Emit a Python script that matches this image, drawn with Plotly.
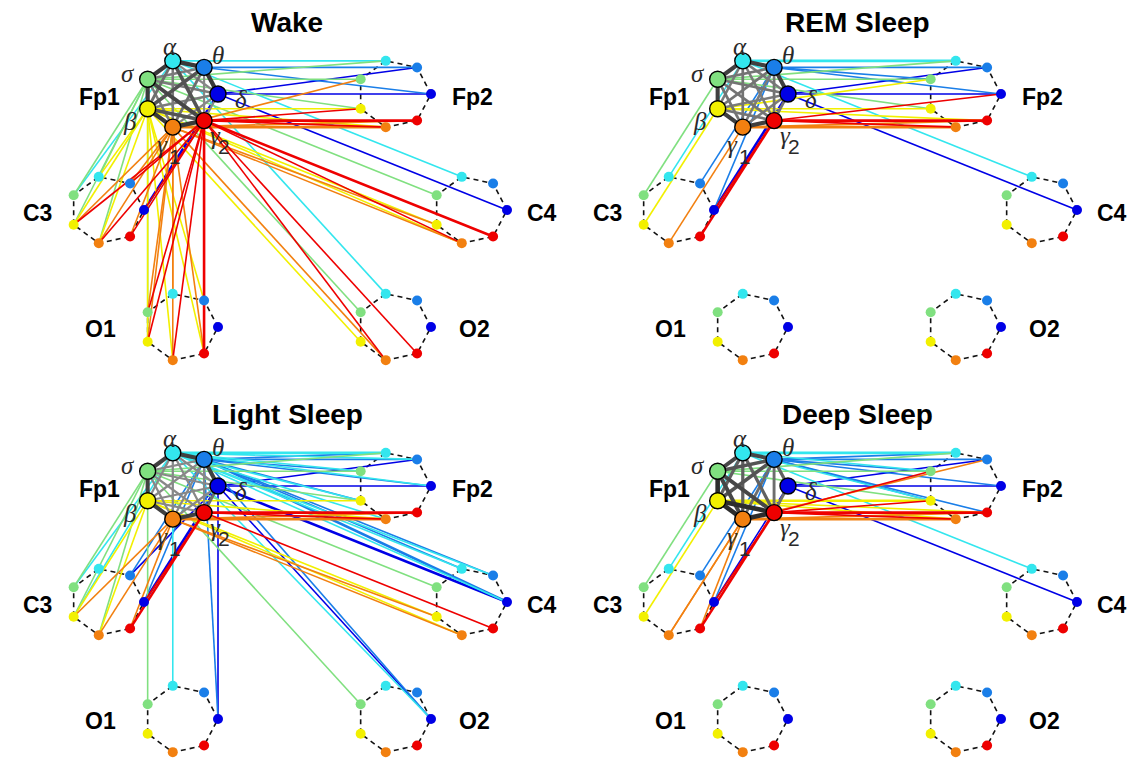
import math
import plotly.graph_objects as go

# ---------------- data ----------------
BANDS = ["d", "t", "a", "s", "b", "g1", "g2"]
BAND_COLORS = ["#0000e6", "#1a7ee8", "#33e6ee", "#80e080", "#f2f000", "#f28010", "#ee0000"]
BAND_GLYPHS = ["δ", "θ", "α", "σ", "β", "γ", "γ"]
BAND_SUBS = ["", "", "", "", "", "1", "2"]
CHANNELS = ["Fp1", "Fp2", "C3", "C4", "O1", "O2"]
PANEL_TITLES = ["Wake", "REM Sleep", "Light Sleep", "Deep Sleep"]

# intra-Fp1 link strengths, pair order = all (i<j) combinations of BANDS
WAKE_FP1 = [0.9, 0.3, 0.4, 0.4, 0.3, 0.3, 0.9, 0.4, 0.7, 0.5, 0.3, 0.9, 0.5, 0.4, 0.7, 0.9, 0.4, 0.8, 0.9, 0.7, 0.9]
REM_FP1 = [0.85, 0.4, 0.45, 0.4, 0.4, 0.45, 0.85, 0.45, 0.45, 0.4, 0.45, 0.85, 0.4, 0.45, 0.4, 0.85, 0.45, 0.45, 0.85, 0.45, 0.85]
LIGHT_FP1 = [0.85, 0.3, 0.3, 0.3, 0.3, 0.5, 0.85, 0.3, 0.3, 0.3, 0.3, 0.85, 0.3, 0.3, 0.3, 0.85, 0.3, 0.3, 0.85, 0.3, 0.85]
DEEP_FP1 = [0.6, 0.0, 0.0, 0.0, 0.0, 0.5, 0.8, 0.7, 0.7, 0.5, 0.5, 0.8, 0.6, 0.6, 0.6, 1.0, 0.8, 0.8, 1.0, 1.0, 1.0]

# Fp1 -> other channel links: (Fp1 band, channel, band, weight)
WAKE_LINKS = [
    ("a", "Fp2", "a", 1), ("s", "Fp2", "a", 1), ("t", "Fp2", "t", 1), ("d", "Fp2", "t", 1),
    ("t", "Fp2", "d", 1), ("d", "Fp2", "d", 1), ("s", "Fp2", "s", 1), ("g1", "Fp2", "s", 1),
    ("b", "Fp2", "b", 1), ("s", "Fp2", "b", 1), ("g2", "Fp2", "b", 1), ("g2", "Fp2", "g2", 2),
    ("g1", "Fp2", "g2", 1), ("g1", "Fp2", "g1", 2), ("g2", "Fp2", "g1", 1), ("b", "Fp2", "g1", 1),
    ("a", "C4", "a", 1), ("s", "C4", "s", 1), ("d", "C4", "d", 1), ("b", "C4", "b", 1),
    ("g1", "C4", "b", 1), ("g1", "C4", "g1", 1), ("b", "C4", "g1", 1), ("g2", "C4", "g2", 2),
    ("g2", "C4", "g1", 1),
    ("a", "O2", "a", 1), ("s", "O2", "s", 1), ("b", "O2", "b", 1), ("g1", "O2", "g1", 1),
    ("g2", "O2", "g1", 1), ("g2", "O2", "g2", 1),
    ("s", "C3", "s", 1), ("a", "C3", "s", 1), ("s", "C3", "b", 1), ("b", "C3", "b", 1),
    ("g2", "C3", "b", 1), ("g1", "C3", "b", 1), ("s", "C3", "a", 1), ("b", "C3", "a", 1),
    ("g1", "C3", "t", 1), ("g2", "C3", "t", 1), ("d", "C3", "d", 2), ("g2", "C3", "d", 1),
    ("g2", "C3", "g2", 1), ("g1", "C3", "g2", 1), ("g1", "C3", "g1", 1), ("b", "C3", "g1", 1),
    ("g2", "C3", "g1", 1), ("s", "C3", "g1", 1),
    ("b", "O1", "b", 1), ("b", "O1", "g1", 1), ("b", "O1", "g2", 1), ("b", "O1", "t", 1),
    ("g1", "O1", "a", 1), ("g1", "O1", "s", 1), ("g1", "O1", "b", 1), ("g1", "O1", "g1", 1),
    ("g1", "O1", "g2", 1), ("g2", "O1", "s", 1), ("g2", "O1", "b", 1), ("g2", "O1", "g1", 1),
    ("g2", "O1", "g2", 2), ("s", "O1", "b", 1),
]
REM_LINKS = [
    ("a", "Fp2", "a", 2), ("s", "Fp2", "a", 1), ("t", "Fp2", "t", 1), ("d", "Fp2", "t", 1),
    ("t", "Fp2", "d", 1), ("g2", "Fp2", "d", 1), ("d", "Fp2", "d", 1), ("s", "Fp2", "s", 1),
    ("b", "Fp2", "s", 1), ("t", "Fp2", "s", 1), ("b", "Fp2", "b", 1), ("s", "Fp2", "b", 1),
    ("g2", "Fp2", "g2", 2), ("g1", "Fp2", "g2", 1), ("g1", "Fp2", "g1", 2), ("g2", "Fp2", "g1", 1),
    ("b", "Fp2", "g2", 1),
    ("a", "C4", "a", 1), ("d", "C4", "d", 1),
    ("s", "C3", "s", 1), ("a", "C3", "a", 1), ("b", "C3", "b", 1), ("t", "C3", "t", 1),
    ("g1", "C3", "g1", 1), ("t", "C3", "d", 1), ("d", "C3", "d", 2), ("g2", "C3", "g2", 2),
    ("g2", "C3", "d", 1),
]
LIGHT_LINKS = [
    ("a", "Fp2", "a", 2), ("t", "Fp2", "a", 1), ("s", "Fp2", "a", 1), ("a", "Fp2", "t", 1),
    ("t", "Fp2", "t", 1), ("d", "Fp2", "t", 1), ("t", "Fp2", "d", 1), ("d", "Fp2", "d", 1),
    ("a", "Fp2", "d", 1), ("s", "Fp2", "s", 1), ("t", "Fp2", "s", 1), ("a", "Fp2", "s", 1),
    ("b", "Fp2", "b", 1), ("s", "Fp2", "b", 1), ("a", "Fp2", "b", 1), ("t", "Fp2", "b", 1),
    ("g2", "Fp2", "g2", 2), ("g1", "Fp2", "g2", 1), ("g2", "Fp2", "g1", 1), ("g1", "Fp2", "g1", 2),
    ("b", "Fp2", "g1", 1), ("a", "Fp2", "g1", 1),
    ("t", "C4", "t", 1), ("a", "C4", "a", 1), ("t", "C4", "d", 2), ("d", "C4", "d", 2),
    ("a", "C4", "d", 1), ("a", "C4", "t", 1), ("t", "C4", "a", 1), ("s", "C4", "s", 1),
    ("b", "C4", "b", 1), ("g1", "C4", "b", 1), ("b", "C4", "g1", 1), ("g2", "C4", "g2", 1),
    ("g1", "C4", "g1", 1),
    ("s", "O2", "s", 1), ("a", "O2", "d", 1), ("t", "O2", "d", 1), ("d", "O2", "d", 1),
    ("s", "O1", "s", 1), ("a", "O1", "a", 1), ("d", "O1", "d", 1), ("t", "O1", "d", 1),
    ("s", "C3", "s", 1), ("a", "C3", "s", 1), ("s", "C3", "b", 1), ("b", "C3", "b", 1),
    ("a", "C3", "b", 1), ("t", "C3", "t", 1), ("d", "C3", "t", 1), ("d", "C3", "d", 2),
    ("g2", "C3", "d", 1), ("g2", "C3", "g2", 2), ("g1", "C3", "g1", 1), ("g1", "C3", "g2", 1),
    ("b", "C3", "g1", 1), ("s", "C3", "g1", 1), ("g1", "C3", "b", 1), ("t", "C3", "d", 1),
]
DEEP_LINKS = [
    ("a", "Fp2", "a", 2), ("s", "Fp2", "a", 1), ("t", "Fp2", "a", 1), ("g1", "Fp2", "t", 1),
    ("g2", "Fp2", "s", 1), ("t", "Fp2", "t", 1), ("t", "Fp2", "d", 1), ("d", "Fp2", "t", 1),
    ("d", "Fp2", "d", 1), ("s", "Fp2", "s", 1), ("a", "Fp2", "s", 1), ("t", "Fp2", "s", 1),
    ("b", "Fp2", "b", 2), ("s", "Fp2", "b", 1), ("a", "Fp2", "b", 1), ("t", "Fp2", "b", 1),
    ("g2", "Fp2", "b", 1), ("b", "Fp2", "g2", 1), ("g2", "Fp2", "g2", 2), ("g1", "Fp2", "g2", 1),
    ("g1", "Fp2", "g1", 2), ("g2", "Fp2", "g1", 1), ("t", "Fp2", "g2", 1), ("b", "Fp2", "g1", 1),
    ("a", "C4", "a", 1), ("d", "C4", "d", 1),
    ("s", "C3", "s", 1), ("a", "C3", "a", 1), ("b", "C3", "b", 1), ("t", "C3", "t", 1),
    ("g1", "C3", "g1", 1), ("g1", "C3", "g1", 1), ("t", "C3", "d", 1), ("d", "C3", "d", 1),
    ("g2", "C3", "d", 1), ("g2", "C3", "g2", 2), ("g1", "C3", "g2", 1),
]
PANEL_FP1 = [WAKE_FP1, REM_FP1, LIGHT_FP1, DEEP_FP1]
PANEL_LINKS = [WAKE_LINKS, REM_LINKS, LIGHT_LINKS, DEEP_LINKS]

# ---------------- layout geometry (local pixel units) ----------------
CENTERS = {"Fp1": (181, 94), "Fp2": (394, 94), "C3": (107, 210),
           "C4": (470, 210), "O1": (181, 327), "O2": (394, 327)}
LABEL_POS = {"Fp1": (99, 97), "Fp2": (472, 97), "C3": (37, 213),
             "C4": (542, 213), "O1": (100, 329), "O2": (474, 329)}
GLYPH_OFF = [(23, 5), (14, -12), (-3, -14), (-20, -6), (-18, 13), (-10, 17), (11, 15)]
SUB_OFF = [None, None, None, None, None, (2, 29), (20, 26)]
RX, RY = 37, 34
PW, PH = 564, 372
FIG_W, FIG_H = 1134, 764
PANEL_ORIGIN = [(0, 0), (570, 0), (0, 392), (570, 392)]


def node_xy(ch, band):
    cx, cy = CENTERS[ch]
    k = BANDS.index(band)
    ang = math.radians(k * 360 / 7)
    return cx + RX * math.cos(ang), cy - RY * math.sin(ang)


PAIRS = [(BANDS[i], BANDS[j]) for i in range(7) for j in range(i + 1, 7)]

fig = go.Figure()
annotations = []
layout_axes = {}

for p in range(4):
    ox, oy = PANEL_ORIGIN[p]
    xa = "x" if p == 0 else f"x{p+1}"
    ya = "y" if p == 0 else f"y{p+1}"
    xkey = "xaxis" if p == 0 else f"xaxis{p+1}"
    ykey = "yaxis" if p == 0 else f"yaxis{p+1}"
    layout_axes[xkey] = dict(domain=[ox / FIG_W, (ox + PW) / FIG_W], range=[0, PW],
                             visible=False, fixedrange=True, anchor=ya)
    layout_axes[ykey] = dict(domain=[1 - (oy + PH) / FIG_H, 1 - oy / FIG_H], range=[PH, 0],
                             visible=False, fixedrange=True, anchor=xa)

    # dashed rings of the other channels
    for ch in CHANNELS[1:]:
        xs, ys = [], []
        for b in BANDS + [BANDS[0]]:
            x, y = node_xy(ch, b)
            xs.append(x); ys.append(y)
        fig.add_trace(go.Scatter(x=xs, y=ys, mode="lines", xaxis=xa, yaxis=ya,
                                 line=dict(color="#111111", width=1.6, dash="5px,4px"),
                                 hoverinfo="skip", showlegend=False))

    # inter-channel links grouped by colour and width
    groups = {}
    for src, ch, dst, w in PANEL_LINKS[p]:
        x0, y0 = node_xy("Fp1", src)
        x1, y1 = node_xy(ch, dst)
        key = (BANDS.index(src), w)
        gx, gy = groups.setdefault(key, ([], []))
        gx += [x0, x1, None]; gy += [y0, y1, None]
    for (bi, w), (gx, gy) in sorted(groups.items()):
        fig.add_trace(go.Scatter(x=gx, y=gy, mode="lines", xaxis=xa, yaxis=ya,
                                 line=dict(color=BAND_COLORS[bi], width=1.6 if w == 1 else 2.6),
                                 hoverinfo="skip", showlegend=False))

    # intra-Fp1 links
    order = sorted(range(len(PAIRS)), key=lambda i: PANEL_FP1[p][i])
    for i in order:
        w = PANEL_FP1[p][i]
        if w <= 0:
            continue
        a, b = PAIRS[i]
        x0, y0 = node_xy("Fp1", a)
        x1, y1 = node_xy("Fp1", b)
        g = int(round(175 - 130 * w))
        fig.add_trace(go.Scatter(x=[x0, x1], y=[y0, y1], mode="lines", xaxis=xa, yaxis=ya,
                                 line=dict(color=f"rgb({g},{g},{g})", width=1.2 + 3.4 * w),
                                 hoverinfo="skip", showlegend=False))

    # nodes
    for ch in CHANNELS:
        xs, ys = zip(*[node_xy(ch, b) for b in BANDS])
        big = ch == "Fp1"
        fig.add_trace(go.Scatter(x=list(xs), y=list(ys), mode="markers", xaxis=xa, yaxis=ya,
                                 marker=dict(color=BAND_COLORS, size=16 if big else 10,
                                             line=dict(color="black", width=1.4 if big else 0)),
                                 hoverinfo="skip", showlegend=False))
        lx, ly = LABEL_POS[ch]
        annotations.append(dict(x=lx, y=ly, xref=xa, yref=ya, text=f"<b>{ch}</b>", showarrow=False,
                                font=dict(family="Liberation Sans, Arial", size=23, color="black"),
                                xanchor="center", yanchor="middle"))

    # greek band labels around Fp1
    for k, b in enumerate(BANDS):
        x, y = node_xy("Fp1", b)
        dx, dy = GLYPH_OFF[k]
        annotations.append(dict(x=x + dx, y=y + dy, xref=xa, yref=ya, text=BAND_GLYPHS[k],
                                showarrow=False,
                                font=dict(family="Liberation Serif", size=25, color="#2a2a2a",
                                          style="italic"),
                                xanchor="center", yanchor="middle"))
        if SUB_OFF[k]:
            sx, sy = SUB_OFF[k]
            annotations.append(dict(x=x + sx, y=y + sy, xref=xa, yref=ya, text=BAND_SUBS[k],
                                    showarrow=False,
                                    font=dict(family="Liberation Sans", size=21, color="#2a2a2a"),
                                    xanchor="center", yanchor="middle"))

    annotations.append(dict(x=287, y=22, xref=xa, yref=ya, text=f"<b>{PANEL_TITLES[p]}</b>",
                            showarrow=False,
                            font=dict(family="Liberation Sans, Arial", size=28, color="black"),
                            xanchor="center", yanchor="middle"))

fig.update_layout(width=FIG_W, height=FIG_H, margin=dict(l=0, r=0, t=0, b=0),
                  paper_bgcolor="white", plot_bgcolor="white",
                  annotations=annotations, **layout_axes)

fig.write_html("out.html", config={"displayModeBar": False})
